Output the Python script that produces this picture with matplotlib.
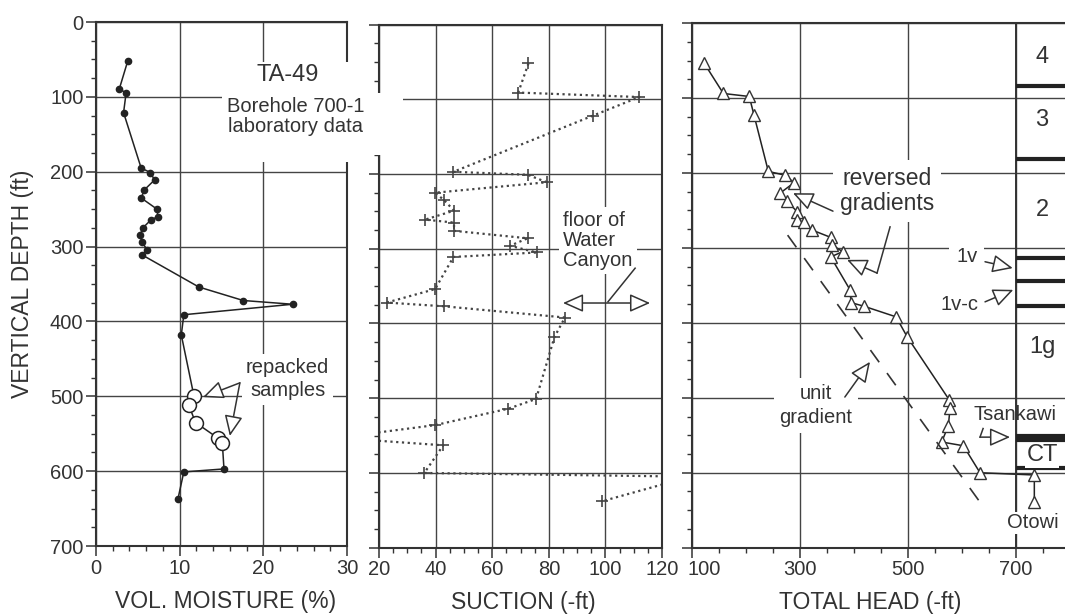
import numpy as np
import matplotlib.pyplot as plt
from matplotlib.patches import Rectangle
from matplotlib.ticker import MultipleLocator
from matplotlib.transforms import ScaledTranslation

plt.rcParams['font.family'] = ['Liberation Sans', 'DejaVu Sans']
ink = '#333333'

# --- volumetric moisture (laboratory) ---
moist = [3.8, 2.8, 3.6, 3.3, 5.4, 6.5, 7.0, 5.8, 5.4, 7.3, 7.4, 6.6, 5.6, 5.3, 5.5, 6.1, 5.5,
         12.3, 17.6, 23.5, 10.5, 10.2]
moist_d = [52, 89, 95, 121, 195, 201, 211, 224, 235, 250, 260, 264, 275, 284, 294, 304, 311,
           354, 372, 377, 391, 418]
repack = [11.7, 11.1, 11.9, 14.6, 15.1]
repack_d = [499, 512, 535, 556, 562]
moist2 = [15.3, 10.5, 9.8]
moist2_d = [597, 601, 637]

# --- suction ---
suction = [72.8, 69.2, 112, 95.5, 46.3, 72.5, 79.3, 39.8, 43, 46.5, 36.3, 46.5, 46.5, 72.5,
           66.3, 75.7, 46.3, 39.8, 22.7, 43, 85.7, 82, 75.5, 65.7, 39.8, 5, 42.7, 36, 130, 98.7]
suction_d = [52, 91, 97, 122, 197, 201, 211, 225, 235, 249, 261, 265, 276, 286,
             296, 305, 311, 354, 372, 377, 392, 418, 501, 514, 536, 553, 563, 600, 605, 638]
off_chart = [25, 28]  # points plotted beyond the axis limits (line only)

# --- total head ---
head = [122.8, 158, 206, 214.8, 241.3, 272.2, 289, 263, 276.5, 295, 295, 307.4, 321.6, 356.8,
        358.6, 379, 356.8, 392.6, 394.4, 419, 477.8, 498.7, 576.5, 577.8, 574.7, 562.4, 602.5,
        633.3, 733.9, 733.9]
head_d = [54, 94, 98, 123, 198, 203, 213, 227, 238, 252, 263, 266, 276, 286, 296, 305, 312,
          356, 373, 378, 392, 419, 503, 514, 537, 559, 564, 600, 603, 639]
unit_d = [283, 637]
unit_offset = -6

zone_d = [84, 181.5, 313, 344, 377, 551, 556.5, 594]
zone_lbl = ['4', '3', '2', '1g', 'CT']
zone_lbl_d = [45, 130, 250, 432, 577]

fig = plt.figure(figsize=(10.65, 6.14), dpi=100)
ax1 = fig.add_axes([0.0901, 0.1107, 0.2357, 0.8534])
ax2 = fig.add_axes([0.3559, 0.108, 0.2657, 0.852])
ax3 = fig.add_axes([0.6498, 0.108, 0.3502, 0.8545])

FS_TICK = 14.5
FS_LAB = 16.5
FS_TXT = 14.5


def style(ax, xmaj, xmin):
    ax.set_ylim(700, 0)
    ax.yaxis.set_major_locator(MultipleLocator(100))
    ax.yaxis.set_minor_locator(MultipleLocator(25))
    ax.xaxis.set_major_locator(MultipleLocator(xmaj))
    ax.xaxis.set_minor_locator(MultipleLocator(xmin))
    ax.tick_params(which='major', direction='out', length=7, width=1.1, color=ink,
                   labelsize=FS_TICK, labelcolor=ink, pad=2)
    ax.tick_params(which='minor', direction='out', length=3.5, width=1, color=ink)
    ax.grid(True, which='major', color='#444444', lw=1.0)
    ax.set_axisbelow(True)
    for s in ax.spines.values():
        s.set_color(ink)
        s.set_linewidth(1.5)


style(ax1, 10, 2)
ax1.set_xlim(0, 30)
ax1.set_ylabel('VERTICAL DEPTH (ft)', fontsize=FS_LAB, color=ink)
ax1.yaxis.set_label_coords(-0.245, 0.5)
ax1.set_xlabel('VOL. MOISTURE (%)', fontsize=FS_LAB, color=ink)
ax1.xaxis.set_label_coords(0.518, -0.084)
ax1.plot(moist, moist_d, '-o', color='#222222', ms=4.5, lw=1.1)
ax1.plot([moist[-1]] + repack + moist2, [moist_d[-1]] + repack_d + moist2_d, '-', color='#222222', lw=1.1)
ax1.plot(moist2, moist2_d, 'o', color='#222222', ms=4.5)
ax1.plot(repack, repack_d, 'o', mfc='white', mec='#222222', ms=10, mew=1.1)
ax1.text(22.9, 477, 'repacked\nsamples', ha='center', va='center', fontsize=FS_TXT, color=ink,
         linespacing=1.3, zorder=5, bbox=dict(fc='white', ec='none', pad=3))
open_head = dict(arrowstyle='-|>,head_length=0.9,head_width=0.4', fc='white', ec=ink, lw=1.1,
                 mutation_scale=14, shrinkA=0, shrinkB=0)
for tip in [(12.8, 501), (16.0, 553)]:
    ax1.annotate('', xy=tip, xytext=(17.2, 482), arrowprops=open_head, zorder=6)

style(ax2, 20, 5)
ax2.set_xlim(20, 120)
ax2.set_xlabel('SUCTION (-ft)', fontsize=FS_LAB, color=ink)
ax2.xaxis.set_label_coords(0.509, -0.082)
ax2.set_yticklabels([])
ax2.set_xticks([20, 40, 60, 80, 100, 120])
ax2.plot(suction, suction_d, linestyle=(0, (1, 1.6)), color='#444444', lw=1.6)
on = [i for i in range(len(suction)) if i not in off_chart]
ax2.plot(np.array(suction)[on], np.array(suction_d)[on], '+', color='#444444', ms=9, mew=1.2)
ax2.text(85, 289, 'floor of\nWater\nCanyon', ha='left', va='center', fontsize=FS_TXT, color=ink,
         linespacing=1.05, zorder=5, bbox=dict(fc='white', ec='none', pad=3))
ax2.annotate('', xy=(85, 372.6), xytext=(115.8, 372.6),
             arrowprops=dict(arrowstyle='<|-|>,head_length=0.9,head_width=0.4', fc='white',
                             ec=ink, lw=1.1, mutation_scale=14, shrinkA=0, shrinkB=0), zorder=6)
ax2.plot([100.9, 110.5], [371, 326], color=ink, lw=1.1, zorder=6)

style(ax3, 200, 50)
ax3.set_xlim(100, 790.7)
ax3.set_xticks([100, 300, 500, 700])
ax3.set_yticklabels([])
ax3.spines['right'].set_visible(False)
ax3.set_xlabel('TOTAL HEAD (-ft)', fontsize=FS_LAB, color=ink)
ax3.xaxis.set_label_coords(0.477, -0.082)
# first label sits a little right of its tick, clear of the "120" next door
lab0 = ax3.get_xticklabels()[0]
lab0.set_transform(lab0.get_transform() + ScaledTranslation(0.12, 0, fig.dpi_scale_trans))
ax3.plot(head, head_d, '-^', color='#222222', mfc='white', mec='#333333', ms=8.5, lw=1.1, mew=1.0)
ud = np.array(unit_d)
ax3.plot(ud + unit_offset, ud, color=ink, lw=1.2, dashes=(9, 8))
ax3.axvline(700, color=ink, lw=1.4)
for d in zone_d:
    ax3.plot([700, 790.7], [d, d], color='#222222', lw=3, solid_capstyle='butt', clip_on=False)
for lbl, d in zip(zone_lbl, zone_lbl_d):
    ax3.text(748, d, lbl, ha='center', va='center', fontsize=17, color=ink, zorder=5,
             bbox=dict(fc='white', ec='none', pad=1) if lbl == 'CT' else None)

ax3.text(461, 224, 'reversed\ngradients', ha='center', va='center', fontsize=16.5, color=ink,
         linespacing=1.1, zorder=5, bbox=dict(fc='white', ec='none', pad=5))
ax3.annotate('', xy=(287, 227), xytext=(361, 251), arrowprops=open_head, zorder=6)
ax3.plot([466.7, 442.6], [272, 333.6], color=ink, lw=1.1, zorder=6)
ax3.annotate('', xy=(387, 316), xytext=(442.6, 333.6), arrowprops=open_head, zorder=6)

ax3.text(329, 510, 'unit\ngradient', ha='center', va='center', fontsize=FS_TXT, color=ink,
         linespacing=1.35, zorder=5, bbox=dict(fc='white', ec='none', pad=4))
ax3.annotate('', xy=(429.6, 452), xytext=(383, 499), arrowprops=open_head, zorder=6)

ax3.text(609, 312, '1v', ha='center', va='center', fontsize=FS_TXT, color=ink, zorder=5,
         bbox=dict(fc='white', ec='none', pad=5))
ax3.annotate('', xy=(694, 327), xytext=(642.6, 318.5), arrowprops=open_head, zorder=6)
ax3.text(596, 376, '1v-c', ha='center', va='center', fontsize=FS_TXT, color=ink, zorder=5,
         bbox=dict(fc='white', ec='none', pad=1))
ax3.annotate('', xy=(695, 356), xytext=(642.6, 372), arrowprops=open_head, zorder=6)
ax3.text(698, 522, 'Tsankawi', ha='center', va='center', fontsize=FS_TXT, color=ink, zorder=5)
ax3.plot([639, 633.3], [541, 552.5], color=ink, lw=1.1, zorder=6)
ax3.annotate('', xy=(689, 552.5), xytext=(633.3, 552.5), arrowprops=open_head, zorder=6)
ax3.text(731.5, 667, 'Otowi', ha='center', va='center', fontsize=FS_TXT, color=ink, zorder=5,
         bbox=dict(fc='white', ec='none', pad=1))

# white patch behind the site label, spanning the first two panels
W, H = 1065, 614
for x0, y0, x1, y1 in [(222, 62, 362, 162), (362, 93, 403, 155)]:
    fig.add_artist(Rectangle((x0 / W, 1 - y1 / H), (x1 - x0) / W, (y1 - y0) / H,
                             transform=fig.transFigure, fc='white', ec='none', zorder=2))
fig.text(288 / W, 1 - 75 / H, 'TA-49', ha='center', va='center', fontsize=17, color=ink, zorder=3)
fig.text(296 / W, 1 - 106 / H, 'Borehole 700-1', ha='center', va='center', fontsize=FS_TXT,
         color=ink, zorder=3)
fig.text(296 / W, 1 - 126 / H, 'laboratory data', ha='center', va='center', fontsize=FS_TXT,
         color=ink, zorder=3)

fig.savefig('out.png', dpi=100)
